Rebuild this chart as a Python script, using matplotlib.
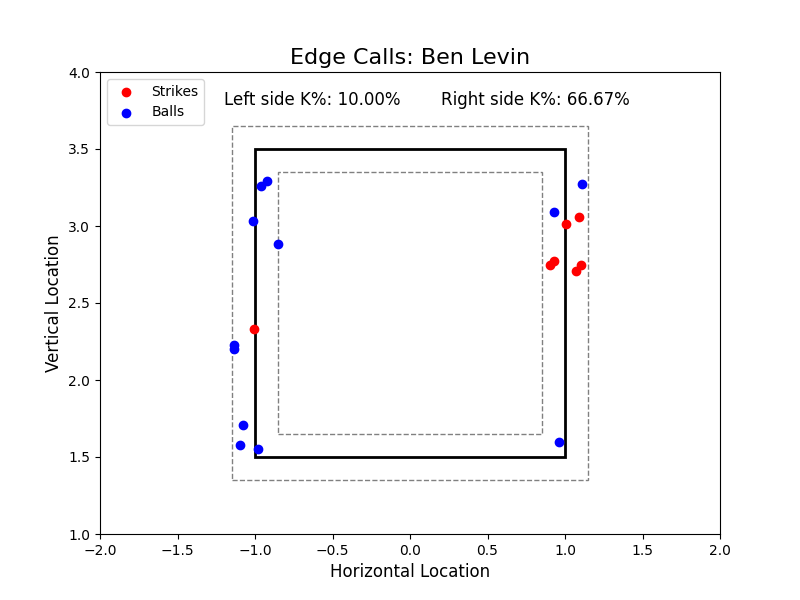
import matplotlib
matplotlib.use("Agg")
import matplotlib.pyplot as plt
import matplotlib.patches as patches

strike_x = [-1.005, 1.005, 1.09, 0.90, 0.93, 1.07, 1.10]
strike_y = [2.33, 3.01, 3.06, 2.75, 2.77, 2.71, 2.75]
ball_x = [-0.92, -0.96, -1.01, -0.85, -1.135, -1.135, -1.08, -1.10, -0.98, 0.93, 1.11, 0.96]
ball_y = [3.29, 3.26, 3.03, 2.88, 2.23, 2.20, 1.71, 1.58, 1.55, 3.09, 3.27, 1.60]

fig, ax = plt.subplots(figsize=(8, 6), dpi=100)
ax.scatter(strike_x, strike_y, c="red", label="Strikes", zorder=3)
ax.scatter(ball_x, ball_y, c="blue", label="Balls", zorder=3)

ax.add_patch(patches.Rectangle((-1, 1.5), 2, 2, fill=False, edgecolor="black", linewidth=2))
ax.add_patch(patches.Rectangle((-1.15, 1.35), 2.3, 2.3, fill=False, edgecolor="gray", linestyle="--"))
ax.add_patch(patches.Rectangle((-0.85, 1.65), 1.7, 1.7, fill=False, edgecolor="gray", linestyle="--"))

ax.set_xlim(-2, 2)
ax.set_ylim(1, 4)
ax.set_title("Edge Calls: Ben Levin", fontsize=16)
ax.set_xlabel("Horizontal Location", fontsize=12)
ax.set_ylabel("Vertical Location", fontsize=12)
ax.text(0.2, 0.94, "Left side K%: 10.00%", transform=ax.transAxes, fontsize=12, va="center")
ax.text(0.55, 0.94, "Right side K%: 66.67%", transform=ax.transAxes, fontsize=12, va="center")
ax.legend(loc="upper left")

plt.savefig("out.png")
